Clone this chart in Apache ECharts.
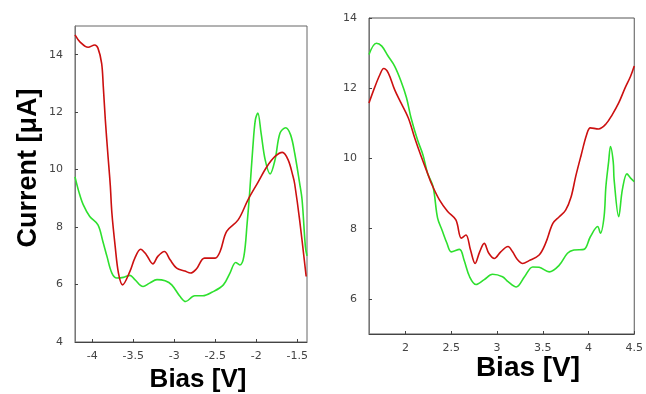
<!DOCTYPE html>
<html>
<head>
<meta charset="utf-8">
<script src="https://cdn.jsdelivr.net/npm/echarts@6/dist/echarts.min.js"></script>
<style>html,body{margin:0;padding:0;background:#fff}#c{width:646px;height:394px}</style>
</head>
<body>
<div id="c"></div>
<script>
// Left panel (negative bias)
var leftRedX = [-4.21,-4.15,-4.05,-3.97,-3.93,-3.885,-3.865,-3.84,-3.81,-3.78,-3.76,-3.72,-3.68,-3.63,-3.54,-3.48,-3.41,-3.34,-3.26,-3.20,-3.12,-3.05,-2.97,-2.87,-2.80,-2.73,-2.63,-2.50,-2.44,-2.36,-2.22,-2.10,-1.98,-1.87,-1.77,-1.68,-1.61,-1.55,-1.53,-1.47,-1.39];
var leftRedY = [14.69,14.45,14.26,14.34,14.23,13.7,12.9,11.73,10.57,9.47,8.49,7.33,6.40,5.99,6.46,6.92,7.23,7.04,6.72,6.98,7.15,6.86,6.57,6.47,6.40,6.54,6.92,6.92,7.15,7.85,8.25,8.95,9.55,10.1,10.46,10.6,10.34,9.76,9.5,8.25,6.28];
var leftGreenX = [-4.21,-4.16,-4.11,-4.03,-3.93,-3.87,-3.82,-3.76,-3.70,-3.62,-3.54,-3.48,-3.38,-3.30,-3.21,-3.11,-3.03,-2.93,-2.86,-2.75,-2.65,-2.54,-2.40,-2.32,-2.25,-2.20,-2.15,-2.11,-2.08,-2.04,-2.01,-1.98,-1.94,-1.89,-1.83,-1.77,-1.71,-1.64,-1.58,-1.53,-1.47,-1.44,-1.40,-1.38];
var leftGreenY = [9.75,9.2,8.78,8.37,8.08,7.5,6.98,6.40,6.23,6.25,6.32,6.17,5.93,6.05,6.17,6.13,5.99,5.59,5.41,5.61,5.61,5.73,5.99,6.4,6.77,6.68,6.98,8.14,9.18,10.8,11.73,11.97,11.27,10.34,9.85,10.34,11.27,11.46,11.21,10.57,9.53,8.95,7.33,7.0];
var leftXTicks = [-4,-3.5,-3,-2.5,-2,-1.5];
var leftYTicks = [4,6,8,10,12,14];

// Right panel (positive bias)
var rightRedX = [1.60,1.66,1.72,1.76,1.81,1.88,1.95,2.03,2.10,2.17,2.24,2.28,2.37,2.46,2.55,2.61,2.66,2.71,2.76,2.81,2.86,2.91,2.97,3.04,3.12,3.17,3.22,3.28,3.35,3.46,3.53,3.61,3.68,3.75,3.81,3.86,3.92,3.98,4.02,4.11,4.19,4.26,4.33,4.40,4.46,4.50];
var rightRedY = [11.58,12.01,12.39,12.56,12.44,11.96,11.58,11.15,10.58,10.06,9.58,9.30,8.82,8.49,8.25,7.73,7.82,7.39,7.01,7.34,7.58,7.30,7.15,7.34,7.49,7.34,7.13,7.01,7.09,7.25,7.58,8.15,8.34,8.53,8.91,9.49,10.1,10.68,10.87,10.84,10.98,11.25,11.58,12.01,12.34,12.63];
var rightGreenX = [1.60,1.68,1.74,1.81,1.88,1.95,2.01,2.06,2.13,2.19,2.24,2.30,2.35,2.40,2.45,2.50,2.59,2.64,2.70,2.77,2.86,2.95,3.06,3.12,3.21,3.30,3.39,3.46,3.57,3.68,3.77,3.84,3.95,4.02,4.10,4.13,4.17,4.19,4.22,4.24,4.27,4.28,4.33,4.37,4.42,4.46,4.50];
var rightGreenY = [12.96,13.28,13.2,12.91,12.63,12.2,11.73,11.15,10.53,10.1,9.58,9.2,8.30,7.95,7.6,7.34,7.41,7.1,6.63,6.41,6.55,6.70,6.63,6.49,6.34,6.63,6.91,6.90,6.77,6.96,7.30,7.39,7.41,7.77,8.06,7.87,8.34,9.2,9.91,10.34,9.91,9.39,8.34,9.11,9.56,9.44,9.34];
var rightXTicks = [2,2.5,3,3.5,4,4.5];
var rightYTicks = [6,8,10,12,14];

function pairs(xs, ys){ return xs.map(function(x,i){ return [x, ys[i]]; }); }

var RED = '#cc1010', GREEN = '#2ee02e';
var labelStyle = {color:'#444', fontFamily:'DejaVu Sans', fontSize:11};

function xAxis(idx, min, max, ticks){
  return {type:'value', gridIndex:idx, min:min, max:max,
    axisLine:{lineStyle:{color:'#444', width:1}},
    axisTick:{inside:true, length:3, customValues:ticks, lineStyle:{color:'#444'}},
    axisLabel:Object.assign({customValues:ticks, margin:9, formatter:function(v){return String(v);}}, labelStyle),
    splitLine:{show:false}};
}
function yAxis(idx, min, max, ticks){
  return {type:'value', gridIndex:idx, min:min, max:max,
    axisLine:{show:true, lineStyle:{color:'#777', width:1}},
    axisTick:{show:true, inside:true, length:3, customValues:ticks, lineStyle:{color:'#444'}},
    axisLabel:Object.assign({customValues:ticks, margin:12}, labelStyle),
    splitLine:{show:false}};
}
function line(xi, yi, data, color){
  return {type:'line', xAxisIndex:xi, yAxisIndex:yi, data:data, showSymbol:false,
    smooth:0.35, lineStyle:{color:color, width:1.6}, itemStyle:{color:color}, animation:false};
}

var chart = echarts.init(document.getElementById('c'));
chart.setOption({
  backgroundColor:'#fff',
  animation:false,
  grid:[
    {left:75, right:339, top:26, bottom:52, show:true, borderColor:'#666', borderWidth:1},
    {left:369, right:11, top:18, bottom:60, show:true, borderColor:'#555', borderWidth:1}
  ],
  xAxis:[xAxis(0,-4.21,-1.38,leftXTicks), xAxis(1,1.6,4.5,rightXTicks)],
  yAxis:[yAxis(0,4,15,leftYTicks), yAxis(1,5,14,rightYTicks)],
  series:[
    line(0,0,pairs(leftGreenX,leftGreenY),GREEN),
    line(0,0,pairs(leftRedX,leftRedY),RED),
    line(1,1,pairs(rightGreenX,rightGreenY),GREEN),
    line(1,1,pairs(rightRedX,rightRedY),RED)
  ],
  graphic:[
    {type:'text', x:29, y:168, rotation:Math.PI/2, style:{text:'Current [\u03bcA]', fill:'#000', font:'bold 27px "Liberation Sans", Arial, sans-serif', align:'center', verticalAlign:'middle'}},
    {type:'text', x:198, y:380, style:{text:'Bias [V]', fill:'#000', font:'bold 26px "Liberation Sans", Arial, sans-serif', align:'center', verticalAlign:'middle'}},
    {type:'text', x:528, y:368, style:{text:'Bias [V]', fill:'#000', font:'bold 28px "Liberation Sans", Arial, sans-serif', align:'center', verticalAlign:'middle'}}
  ]
});
</script>
</body>
</html>
